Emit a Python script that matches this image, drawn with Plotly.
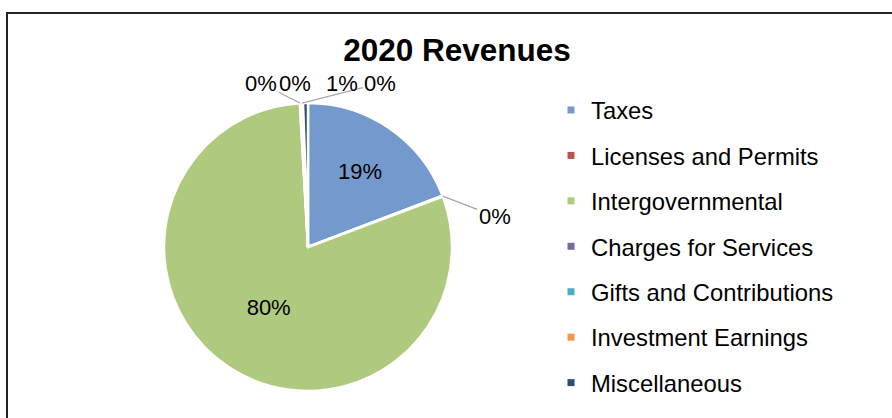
import math
import plotly.graph_objects as go

categories = ["Taxes", "Licenses and Permits", "Intergovernmental", "Charges for Services",
              "Gifts and Contributions", "Investment Earnings", "Miscellaneous"]
revenues = [19.2, 0.1, 79.8, 0.1, 0.05, 0.2, 0.55]
colors = ["#7499cc", "#c0504d", "#afca7f", "#8064a2", "#4bacc6", "#f79646", "#2c4d75"]
text_pos = ["inside", "none", "inside", "none", "none", "none", "none"]

W, H = 892, 418
cx, cy, r = 308, 247, 144

fig = go.Figure()
fig.add_trace(go.Pie(
    labels=categories, values=revenues, sort=False, direction="clockwise", rotation=0,
    marker=dict(colors=colors, line=dict(color="white", width=2.5)),
    texttemplate="%{percent:.0%}", textposition=text_pos,
    textfont=dict(size=22, color="black", family="Liberation Sans, Arial"),
    insidetextorientation="horizontal", showlegend=False,
    domain=dict(x=[(cx - r) / W, (cx + r) / W], y=[(H - cy - r) / H, (H - cy + r) / H]),
))

# small slices: outside labels with leader lines (label offsets in px, leader drawn or not)
total = sum(revenues)
label_offsets = {
    "Licenses and Permits": (52, 20, True),
    "Charges for Services": (-39, -20, True),
    "Gifts and Contributions": (-6, -20, False),
    "Miscellaneous": (36, -20, False),
    "Investment Earnings": (78, -20, True),
}
annotations = []
start = 0.0
for name, v in zip(categories, revenues):
    if name in label_offsets:
        ax, ay, lead = label_offsets[name]
        a = math.radians((start + v / 2) / total * 360)
        px, py = cx + r * math.sin(a), cy - r * math.cos(a)
        annotations.append(dict(
            x=px / W, y=1 - py / H, xref="paper", yref="paper", text=f"{v / total:.0%}",
            showarrow=True, ax=ax, ay=ay, arrowhead=0, arrowwidth=1.2,
            arrowcolor="#a6a6a6" if lead else "rgba(0,0,0,0)",
            font=dict(size=22, color="black")))
    start += v

# legend entries as separate groups so the spacing can match
for name, c in zip(categories, colors):
    fig.add_trace(go.Scatter(x=[None], y=[None], mode="markers", name=name, legendgroup=name,
                             marker=dict(symbol="square", size=7, color=c)))

fig.update_layout(
    width=W, height=H, autosize=False,
    margin=dict(l=0, r=0, t=0, b=0),
    paper_bgcolor="white", plot_bgcolor="white",
    font=dict(family="Liberation Sans, Arial", color="black"),
    title=dict(text="<b>2020 Revenues</b>", font=dict(size=31.5, color="black"),
               x=457 / W, xanchor="center", y=1 - 50 / H, yanchor="middle"),
    xaxis=dict(visible=False), yaxis=dict(visible=False),
    legend=dict(x=551 / W, xanchor="left", y=1 - 88 / H, yanchor="top",
                font=dict(size=23.8), tracegroupgap=11.5, bgcolor="rgba(0,0,0,0)"),
    annotations=annotations,
    shapes=[dict(type="rect", xref="paper", yref="paper", x0=7 / W, x1=1.05, y0=-0.05, y1=1 - 13 / H,
                 line=dict(color="#222222", width=2))],
)

fig.write_html("out.html", config={"displayModeBar": False},
               post_script="document.body.style.margin='0';")
